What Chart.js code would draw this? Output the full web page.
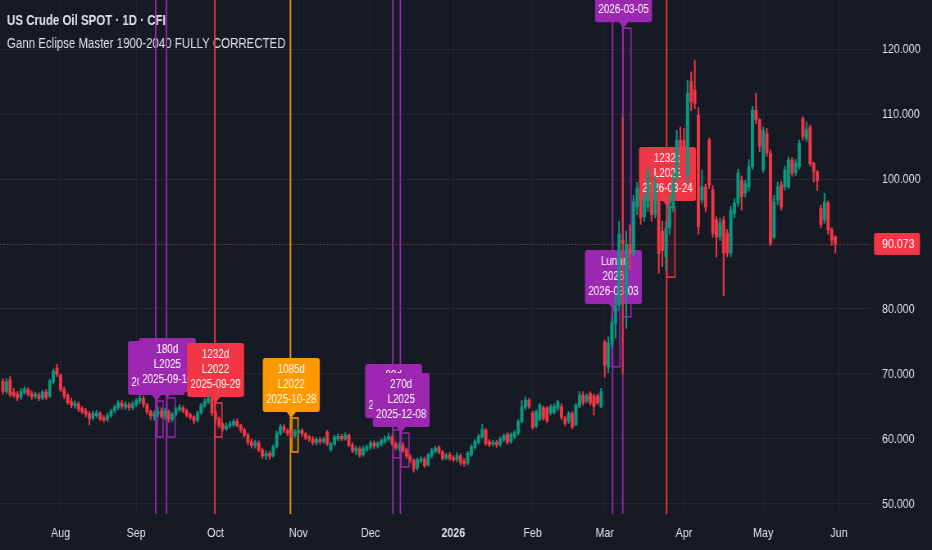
<!DOCTYPE html>
<html>
<head>
<meta charset="utf-8">
<title>US Crude Oil SPOT 1D</title>
<script src="https://cdn.jsdelivr.net/npm/chart.js@4.4.1/dist/chart.umd.min.js"></script>
<style>
  html, body { margin: 0; padding: 0; background: #161a25; }
  #wrap { position: relative; width: 932px; height: 550px; overflow: hidden; }
  canvas { display: block; }
</style>
</head>
<body>
<div id="wrap"><canvas id="chart" width="1137" height="550" style="width:932px;height:550px"></canvas></div>
<script>
// daily candles, x = trading-day index (0 = 2025-08-01)
const firstIndex = -16;

const opens = [
  68.9, 67.3, 69.1, 67.2, 66.9, 66.4, 67.2, 67.6, 67.0, 66.5,
  66.8, 66.3, 67.2, 66.6, 68.8, 70.9, 69.8, 67.6, 66.7, 65.8,
  65.1, 65.4, 64.7, 64.3, 63.9, 63.2, 63.6, 63.9, 63.2, 63.0,
  63.6, 64.3, 64.8, 65.5, 64.9, 65.3, 64.8, 65.3, 65.8, 66.2,
  65.3, 64.2, 63.5, 63.8, 64.3, 63.5, 64.2, 63.0, 63.8, 64.5,
  64.8, 64.3, 63.7, 63.4, 62.9, 64.0, 65.1, 65.7, 66.3, 64.1,
  63.1, 62.2, 61.6, 62.0, 62.2, 62.7, 62.1, 61.4, 60.6, 59.6,
  59.0, 59.4, 58.3, 57.4, 57.8, 57.4, 58.8, 60.8, 61.9, 61.3,
  60.9, 60.6, 61.0, 61.3, 60.8, 60.3, 60.0, 59.4, 59.9, 59.6,
  61.1, 58.4, 59.2, 60.0, 60.4, 60.0, 60.6, 59.1, 58.1, 58.5,
  57.6, 58.4, 58.7, 59.4, 58.9, 59.2, 59.6, 60.0, 60.3, 59.3,
  58.6, 59.0, 58.3, 57.4, 56.7, 55.6, 56.6, 56.9, 56.0, 57.4,
  58.1, 58.7, 58.0, 57.1, 57.6, 57.1, 56.8, 57.4, 56.6, 56.3,
  57.6, 58.7, 59.5, 60.3, 61.4, 59.6, 59.2, 59.5, 59.1, 59.9,
  60.7, 59.6, 60.3, 60.9, 62.7, 64.9, 66.0, 64.0, 62.0, 63.0,
  64.8, 64.8, 64.0, 64.1, 64.7, 65.0, 63.2, 62.7, 63.9, 62.2,
  65.0, 66.8, 65.9, 67.0, 66.6, 66.6, 65.0, 74.9, 71.0, 74.6,
  77.8, 80.5, 90.6, 82.0, 90.0, 88.5, 95.7, 97.8, 94.2, 95.7,
  99.0, 94.5, 97.0, 92.0, 88.0, 92.5, 95.7, 100.3, 106.0, 106.0,
  100.5, 115.0, 113.7, 109.8, 96.8, 98.8, 106.0, 98.3, 93.7, 91.1,
  93.7, 91.6, 88.6, 94.7, 96.3, 99.8, 97.8, 98.8, 101.9, 110.6,
  109.1, 101.4, 107.0, 104.0, 91.0, 96.8, 99.1, 98.8, 98.8, 102.9,
  100.9, 101.9, 109.3, 106.2, 108.0, 102.4, 101.1, 95.5, 93.7, 96.3,
  92.2, 91.1
];
const highs = [
  69.3, 69.3, 69.6, 67.8, 67.3, 67.8, 68.0, 67.9, 67.4, 67.2,
  67.1, 67.5, 67.6, 69.2, 70.8, 71.5, 70.0, 68.0, 67.0, 66.3,
  65.9, 65.7, 65.0, 64.7, 64.2, 64.3, 64.4, 64.2, 63.6, 64.0,
  64.6, 65.2, 65.9, 65.9, 65.7, 65.6, 65.8, 66.2, 66.7, 66.6,
  65.5, 64.5, 64.3, 64.9, 64.8, 64.7, 64.5, 64.1, 64.9, 65.3,
  65.1, 64.6, 64.0, 63.6, 64.3, 65.5, 66.2, 66.8, 66.5, 64.4,
  63.4, 62.5, 62.4, 62.7, 63.0, 63.1, 62.3, 61.7, 60.9, 60.0,
  59.8, 59.7, 58.6, 58.2, 58.1, 59.1, 61.2, 62.3, 62.2, 61.6,
  61.3, 61.5, 61.7, 61.6, 61.0, 60.6, 60.4, 60.2, 60.2, 60.3,
  61.3, 59.5, 60.6, 60.8, 60.7, 61.0, 60.8, 59.4, 58.9, 58.8,
  58.9, 59.1, 59.7, 59.7, 59.6, 60.0, 60.5, 60.9, 60.6, 59.6,
  59.4, 59.5, 58.6, 57.6, 56.9, 57.1, 57.3, 57.2, 57.8, 58.6,
  58.9, 59.0, 58.2, 57.8, 57.9, 57.4, 57.9, 57.7, 57.0, 58.1,
  59.1, 59.9, 60.7, 62.3, 61.6, 59.9, 59.8, 59.8, 60.3, 60.8,
  61.0, 61.0, 61.3, 63.0, 65.9, 66.5, 66.3, 64.3, 64.5, 65.5,
  65.1, 65.0, 65.3, 65.4, 66.0, 65.4, 63.5, 64.2, 64.2, 65.5,
  67.3, 67.3, 66.9, 67.3, 66.9, 66.9, 67.8, 75.2, 75.7, 78.8,
  82.0, 93.5, 109.5, 92.0, 93.0, 97.5, 99.5, 98.5, 97.8, 102.0,
  100.5, 100.5, 97.5, 93.5, 93.5, 97.5, 101.0, 107.5, 108.0, 107.8,
  115.2, 116.5, 118.3, 111.0, 101.4, 99.2, 106.3, 99.0, 94.2, 94.0,
  94.2, 92.2, 95.8, 97.0, 101.5, 100.5, 99.8, 103.0, 111.2, 113.2,
  109.3, 108.0, 107.8, 104.5, 97.5, 99.5, 99.6, 102.0, 103.4, 103.3,
  103.0, 106.0, 109.6, 108.8, 108.3, 102.6, 101.3, 96.0, 97.8, 96.6,
  92.5, 91.3
];
const lows = [
  66.9, 67.0, 66.5, 66.4, 65.9, 66.1, 66.9, 66.6, 66.1, 66.2,
  65.9, 66.0, 66.1, 66.4, 68.5, 69.6, 67.3, 66.2, 65.3, 64.8,
  64.7, 64.2, 63.9, 63.4, 62.2, 62.9, 63.3, 62.8, 62.6, 62.7,
  63.3, 64.0, 64.5, 64.6, 64.5, 64.4, 64.5, 65.0, 65.4, 64.9,
  63.8, 63.0, 62.9, 63.3, 63.2, 63.0, 62.6, 62.7, 63.5, 64.2,
  64.0, 63.4, 63.0, 62.3, 62.6, 63.8, 64.9, 65.4, 63.6, 62.6,
  61.7, 61.2, 61.3, 61.7, 61.9, 61.8, 61.0, 60.3, 59.1, 58.6,
  58.6, 58.0, 57.0, 56.8, 56.9, 57.2, 58.6, 60.6, 61.0, 60.5,
  60.2, 60.2, 60.7, 60.4, 59.9, 59.6, 59.1, 59.1, 59.2, 59.3,
  59.0, 58.1, 59.0, 59.7, 59.7, 59.8, 58.8, 57.9, 57.6, 57.2,
  57.3, 58.1, 58.4, 58.5, 58.6, 58.9, 59.3, 59.7, 59.0, 58.3,
  58.2, 57.9, 57.0, 56.3, 54.9, 55.2, 56.3, 55.6, 55.8, 57.1,
  57.8, 57.7, 56.7, 56.8, 56.7, 56.5, 56.5, 56.0, 55.8, 56.0,
  57.3, 58.4, 59.2, 60.1, 59.0, 58.8, 58.9, 58.7, 58.8, 59.6,
  59.2, 59.3, 60.0, 60.6, 62.5, 64.5, 64.7, 61.5, 61.7, 62.8,
  62.9, 62.5, 63.7, 63.8, 64.4, 63.0, 62.1, 62.4, 61.6, 62.0,
  64.8, 65.2, 65.6, 65.2, 63.7, 65.3, 64.8, 69.5, 70.2, 74.0,
  75.5, 80.0, 70.0, 77.0, 86.0, 88.0, 94.5, 93.0, 93.5, 95.0,
  93.5, 94.0, 85.5, 86.5, 86.0, 91.5, 95.0, 99.5, 100.9, 100.9,
  99.3, 110.5, 110.8, 91.5, 96.3, 95.0, 98.5, 91.0, 88.0, 90.5,
  82.0, 88.0, 88.0, 94.0, 95.8, 95.2, 97.2, 98.2, 101.5, 108.5,
  104.2, 101.0, 103.5, 89.8, 90.8, 96.0, 95.2, 98.3, 98.5, 100.4,
  100.5, 101.5, 106.0, 105.8, 102.0, 99.5, 98.2, 92.5, 93.2, 91.5,
  89.8, 88.6
];
const closes = [
  67.3, 68.8, 66.8, 66.7, 66.3, 67.3, 67.7, 66.9, 66.5, 66.9,
  66.2, 67.2, 66.4, 68.9, 70.4, 69.9, 67.6, 66.6, 65.6, 65.2,
  65.5, 64.6, 64.2, 63.8, 63.1, 63.9, 64.0, 63.1, 62.9, 63.6,
  64.3, 64.9, 65.6, 65.0, 65.3, 64.8, 65.4, 65.9, 66.3, 65.3,
  64.2, 63.6, 63.9, 64.2, 63.5, 64.3, 63.1, 63.8, 64.6, 64.9,
  64.3, 63.7, 63.3, 62.8, 64.0, 65.2, 65.8, 66.3, 64.0, 63.1,
  62.1, 61.6, 62.0, 62.3, 62.7, 62.1, 61.4, 60.6, 59.5, 59.0,
  59.4, 58.3, 57.4, 57.8, 57.3, 58.8, 60.9, 61.9, 61.3, 60.9,
  60.6, 61.1, 61.3, 60.8, 60.2, 60.0, 59.4, 59.9, 59.6, 60.0,
  59.2, 59.2, 60.3, 60.4, 60.0, 60.6, 59.0, 58.2, 58.6, 57.5,
  58.5, 58.8, 59.4, 58.9, 59.3, 59.7, 60.1, 60.4, 59.3, 58.7,
  59.0, 58.2, 57.4, 56.8, 55.4, 56.8, 57.0, 55.9, 57.5, 58.2,
  58.6, 58.0, 57.0, 57.5, 57.0, 56.8, 57.5, 56.4, 56.2, 57.8,
  58.8, 59.6, 60.4, 61.5, 59.3, 59.1, 59.5, 59.1, 60.0, 60.5,
  59.5, 60.7, 61.0, 62.7, 65.0, 66.0, 65.0, 61.8, 64.2, 65.2,
  63.2, 62.8, 65.0, 65.0, 65.7, 63.3, 62.4, 63.9, 61.9, 65.2,
  66.8, 65.5, 66.6, 65.5, 65.0, 65.6, 67.3, 71.4, 74.7, 78.0,
  80.5, 91.5, 90.1, 90.0, 88.5, 96.5, 98.6, 94.0, 96.8, 101.0,
  94.5, 99.5, 88.5, 89.0, 92.5, 95.8, 99.5, 106.0, 104.0, 101.5,
  113.2, 111.9, 111.6, 92.7, 98.8, 95.7, 99.1, 91.6, 91.1, 93.2,
  88.6, 88.6, 95.2, 96.3, 100.9, 97.3, 99.3, 101.9, 110.6, 109.1,
  105.0, 107.5, 104.0, 90.1, 96.5, 98.8, 95.7, 101.4, 102.9, 100.9,
  102.4, 105.5, 106.5, 107.6, 102.4, 101.1, 99.8, 93.0, 96.5, 92.2,
  90.6, 90.073
];

// axis ticks
const monthTicks = [0, 21, 43, 66, 86, 109, 131, 151, 173, 195, 216];
const monthLabels = ['Aug', 'Sep', 'Oct', 'Nov', 'Dec', '2026', 'Feb', 'Mar', 'Apr', 'May', 'Jun'];
const yearTick = 109;

// Gann eclipse events: line position (trading-day index), colour, label text, label tip price
const eventX = [26.4, 29.4, 42.8, 63.8, 92.2, 94.3, 153.2, 156.0, 168.2];
const eventColor = ['#9c27b0', '#9c27b0', '#f23645', '#ff9800', '#9c27b0', '#9c27b0', '#9c27b0', '#9c27b0', '#f23645'];
const eventText = [
  ['90d', 'L2025', '2025-09-08'],
  ['180d', 'L2025', '2025-09-10'],
  ['1232d', 'L2022', '2025-09-29'],
  ['1085d', 'L2022', '2025-10-28'],
  ['88d', 'L2025', '2025-12-05'],
  ['270d', 'L2025', '2025-12-08'],
  ['Lunar', '2026', '2026-03-03'],
  ['180d', 'L2025', '2026-03-05'],
  ['1232d', 'L2022', '2026-03-24']
];
const labelTip = [65.85, 66.31, 65.54, 63.23, 62.3, 60.92, 79.85, 123.2, 95.69];

// range boxes around the event bars
const boxX0 = [26.8, 29.55, 42.9, 64.2, 92.3, 94.5, 153.0, 156.1, 168.3];
const boxX1 = [28.45, 31.8, 44.8, 65.9, 94.2, 96.7, 155.2, 158.3, 170.5];
const boxLo = [60.3, 60.3, 60.3, 58.0, 57.1, 55.7, 71.1, 78.8, 84.9];
const boxHi = [65.85, 66.31, 65.54, 63.23, 61.4, 60.92, 79.85, 123.2, 95.69];

const GREEN = '#089981';
const RED = '#f23645';
const GRID = '#232733';
const TEXT = '#dfe2ea';
const FONT = '"Liberation Sans", Arial, sans-serif';
// the snapshot is horizontally condensed: canvas is drawn wider and shown at 932px
const SX = 1137 / 932;

Chart.defaults.font.family = FONT;
Chart.defaults.color = TEXT;

const idx = opens.map((_, k) => firstIndex + k);
const candleColor = c => (closes[c.dataIndex] >= opens[c.dataIndex] ? GREEN : RED);

const gannPlugin = {
  id: 'gann',
  beforeDatasetsDraw(chart) {
    const { ctx, chartArea: a, scales: { x, y } } = chart;
    ctx.save();
    ctx.beginPath();
    ctx.rect(a.left, a.top, a.right - a.left, a.bottom - a.top);
    ctx.clip();

    // title / indicator name
    ctx.fillStyle = TEXT;
    ctx.textAlign = 'left';
    ctx.textBaseline = 'alphabetic';
    ctx.font = 'bold 14px ' + FONT;
    ctx.fillText('US Crude Oil SPOT · 1D · CFI', 7 * SX, 25);
    ctx.font = '14px ' + FONT;
    ctx.fillText('Gann Eclipse Master 1900-2040 FULLY CORRECTED', 7 * SX, 48);

    // last price dotted line
    const last = closes[closes.length - 1];
    const py = Math.round(y.getPixelForValue(last)) + 0.5;
    ctx.strokeStyle = RED;
    ctx.globalAlpha = 0.75;
    ctx.lineWidth = 1;
    ctx.setLineDash([1.2, 3]);
    ctx.beginPath();
    ctx.moveTo(a.left, py);
    ctx.lineTo(a.right, py);
    ctx.stroke();
    ctx.setLineDash([]);
    ctx.globalAlpha = 1;

    // vertical event lines
    eventX.forEach((v, k) => {
      const px = x.getPixelForValue(v);
      ctx.strokeStyle = eventColor[k];
      ctx.lineWidth = 1.5 * SX;
      ctx.beginPath();
      ctx.moveTo(px, a.top);
      ctx.lineTo(px, a.bottom);
      ctx.stroke();
    });

    // boxes
    boxX0.forEach((v, k) => {
      const x0 = x.getPixelForValue(v);
      const x1 = x.getPixelForValue(boxX1[k]);
      const y0 = y.getPixelForValue(boxHi[k]);
      const y1 = y.getPixelForValue(boxLo[k]);
      ctx.globalAlpha = 0.08;
      ctx.fillStyle = eventColor[k];
      ctx.fillRect(x0, y0, x1 - x0, y1 - y0);
      ctx.globalAlpha = 1;
      ctx.strokeStyle = eventColor[k];
      ctx.lineWidth = 1.5;
      ctx.strokeRect(x0, y0, x1 - x0, y1 - y0);
    });

    // callout labels
    eventText.forEach((lines, k) => {
      const cx = x.getPixelForValue(eventX[k]) + 0.8 * SX;
      const tip = y.getPixelForValue(labelTip[k]);
      const w = 57 * SX, h = 54;
      const bottom = tip - 6;
      const top = bottom - h;
      ctx.fillStyle = eventColor[k];
      ctx.beginPath();
      ctx.roundRect(cx - w / 2, top, w, h, 3);
      ctx.fill();
      ctx.beginPath();
      ctx.moveTo(cx - 5 * SX, bottom - 0.5);
      ctx.lineTo(cx + 5 * SX, bottom - 0.5);
      ctx.lineTo(cx, tip);
      ctx.closePath();
      ctx.fill();
      ctx.fillStyle = '#ffffff';
      ctx.font = '12px ' + FONT;
      ctx.textAlign = 'center';
      ctx.textBaseline = 'middle';
      lines.forEach((t, j) => ctx.fillText(t, cx, top + 11.5 + j * 15));
    });
    ctx.restore();
  },
  afterDraw(chart) {
    const { ctx, chartArea: a, scales: { y } } = chart;
    const last = closes[closes.length - 1];
    const py = Math.round(y.getPixelForValue(last));
    ctx.save();
    ctx.fillStyle = RED;
    ctx.beginPath();
    ctx.roundRect(a.right + 3 * SX, py - 11, 46 * SX, 22, 2);
    ctx.fill();
    ctx.fillStyle = '#ffffff';
    ctx.font = '13px ' + FONT;
    ctx.textAlign = 'left';
    ctx.textBaseline = 'middle';
    ctx.fillText(last.toFixed(3), a.right + 11 * SX, py + 0.5);
    ctx.restore();
  }
};

const ctx = document.getElementById('chart').getContext('2d');
const chart = new Chart(ctx, {
  type: 'bar',
  data: {
    datasets: [
      {
        label: 'wicks',
        data: idx.map((x, k) => ({ x: x, y: [lows[k], highs[k]] })),
        backgroundColor: candleColor,
        barThickness: 1.1 * SX,
        grouped: false,
        borderWidth: 0
      },
      {
        label: 'bodies',
        data: idx.map((x, k) => ({ x: x, y: [opens[k], closes[k]] })),
        backgroundColor: candleColor,
        barThickness: 2.7 * SX,
        minBarLength: 1,
        grouped: false,
        borderWidth: 0
      }
    ]
  },
  options: {
    responsive: false,
    animation: false,
    devicePixelRatio: 1,
    events: [],
    layout: { padding: 0 },
    plugins: { legend: { display: false }, tooltip: { enabled: false } },
    scales: {
      x: {
        type: 'linear',
        min: -16.8,
        max: 224.9,
        offset: false,
        grid: { color: GRID, drawTicks: false, offset: false },
        border: { display: false },
        afterBuildTicks: s => { s.ticks = monthTicks.map(v => ({ value: v })); },
        afterFit: s => { s.height = 36; s.paddingLeft = 0; s.paddingRight = 0; },
        ticks: {
          padding: 12,
          maxRotation: 0,
          autoSkip: false,
          color: TEXT,
          font: c => ({ size: 13, weight: c.tick && c.tick.value === yearTick ? 'bold' : 'normal' }),
          callback: v => {
            const k = monthTicks.indexOf(v);
            return k >= 0 ? monthLabels[k] : '';
          }
        }
      },
      y: {
        position: 'right',
        min: 48.46,
        max: 127.54,
        grid: { color: GRID, drawTicks: false },
        border: { display: false },
        afterFit: s => { s.width = 61 * SX; s.paddingTop = 0; s.paddingBottom = 0; },
        ticks: {
          stepSize: 10,
          includeBounds: false,
          padding: 11 * SX,
          color: TEXT,
          font: { size: 13 },
          callback: v => v.toFixed(3)
        }
      }
    }
  },
  plugins: [gannPlugin]
});
</script>
</body>
</html>
